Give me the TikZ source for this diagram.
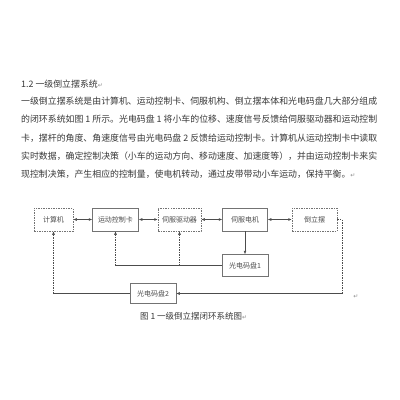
\documentclass[tikz,border=0pt]{standalone}
\usepackage{fontspec}
\setmainfont{Noto Sans CJK SC}
\newfontfamily\symfont{DejaVu Sans}
\usetikzlibrary{positioning,arrows.meta}
\newcommand{\enter}{{\symfont\color{black!45}\fontsize{6}{6}\selectfont ↵}}

\begin{document}
\begin{tikzpicture}[x=1pt,y=-1pt,node distance=19pt,
    box/.style={draw=black!55,line width=0.5pt,minimum height=23pt,inner sep=0pt,
      font=\fontsize{7}{8}\selectfont,text=black!70},
    dbox/.style={box,dash pattern=on 1.5pt off 1pt},
    tline/.style={anchor=west,inner sep=0pt,font=\fontsize{8.9}{10}\selectfont,text=black!78},
    link/.style={draw=black!70,line width=0.5pt},
    dlink/.style={link,dash pattern=on 1.5pt off 1pt},
    tip/.style={-{Latex[length=3.5pt,width=2.8pt]}},
    both/.style={{Latex[length=3.5pt,width=2.8pt]}-{Latex[length=3.5pt,width=2.8pt]}}]

  \useasboundingbox (0,0) rectangle (400,400);

  % text of the page
  \node[tline] (head) at (21,84) {1.2 一级倒立摆系统\enter};
  \node[tline] (p1) at (21,101) {一级倒立摆系统是由计算机、运动控制卡、伺服机构、倒立摆本体和光电码盘几大部分组成};
  \node[tline] (p2) at (21,119.5) {的闭环系统如图 1 所示。光电码盘 1 将小车的位移、速度信号反馈给伺服驱动器和运动控制};
  \node[tline] (p3) at (21,138) {卡，摆杆的角度、角速度信号由光电码盘 2 反馈给运动控制卡。计算机从运动控制卡中读取};
  \node[tline] (p4) at (21,156) {实时数据，确定控制决策（小车的运动方向、移动速度、加速度等），并由运动控制卡来实};
  \node[tline] (p5) at (21,174) {现控制决策，产生相应的控制量，使电机转动，通过皮带带动小车运动，保持平衡。\enter};

  % blocks
  \node[dbox, minimum width=39pt] (jsj) at (53.5,219.5) {计算机};
  \node[box, minimum width=46pt] (ydk) [right=19pt of jsj] {运动控制卡};
  \node[dbox, minimum width=43pt] (sfq) [right=19pt of ydk] {伺服驱动器};
  \node[box, minimum width=45pt] (sfdj) [right=21pt of sfq] {伺服电机};
  \node[dbox, minimum width=45pt] (dlb) [right=24pt of sfdj] {倒立摆};
  \node[box, minimum width=46pt, minimum height=22pt] (gd1) [below=23pt of sfdj] {光电码盘1};
  \node[box, minimum width=46pt, minimum height=20pt] (gd2) at (153,293.5) {光电码盘2};

  \coordinate (k1) at (ydk |- gd1.west);
  \coordinate (k2) at (sfq |- gd1.west);
  \coordinate (r1) at (342,219.5);
  \coordinate (r2) at (342,293.5);
  \coordinate (k3) at (jsj |- gd2.west);

  \draw[link,both] (jsj) -- (ydk);
  \draw[link,both] (ydk) -- (sfq);
  \draw[link,both] (sfq) -- (sfdj);
  \draw[link,both] (sfdj) -- (dlb);
  \draw[link,tip] (sfdj) -- (gd1);

  \draw[link] (gd1.west) -- (k1);
  \draw[dlink,tip] (k1) -- (ydk.south);
  \draw[dlink,tip] (k2) -- (sfq.south);

  \draw[dlink] (dlb.east) -- (r1) -- (r2);
  \draw[link,tip] (r2) -- (gd2.east);
  \draw[link] (gd2.west) -- (k3);
  \draw[dlink,tip] (k3) -- (jsj.south);

  \node[inner sep=0pt] (ret) at (356,297) {\enter};
  \node[tline] (cap) at (140,316) {\fontsize{8.5}{10}\selectfont 图 1 一级倒立摆闭环系统图\enter};
\end{tikzpicture}
\end{document}
